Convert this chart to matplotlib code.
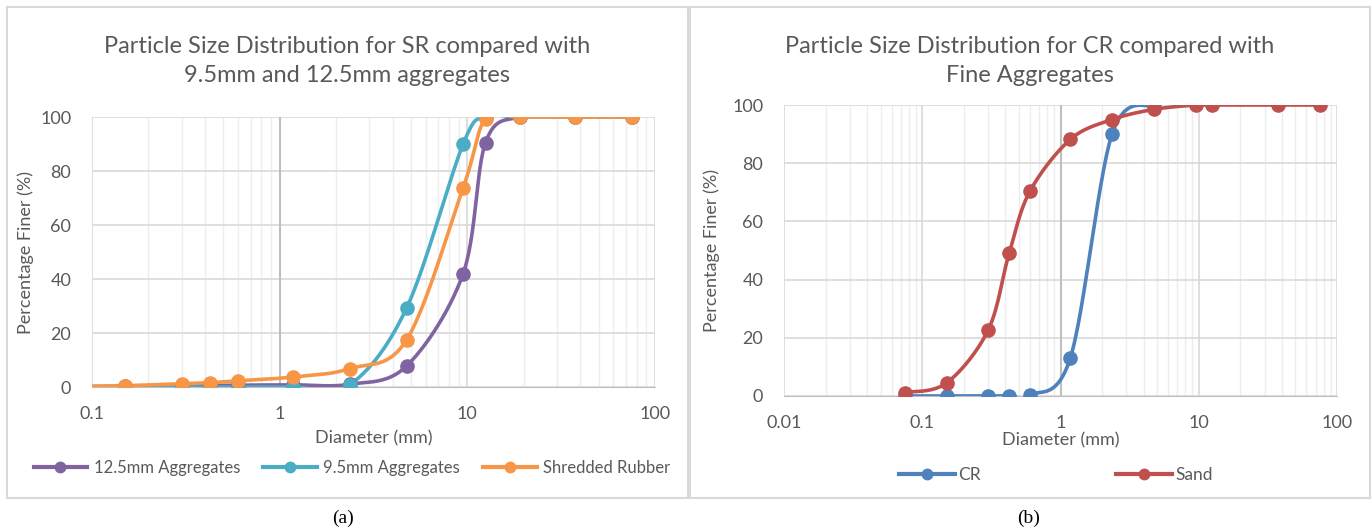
import numpy as np
import matplotlib
matplotlib.use("Agg")
import matplotlib.pyplot as plt
from matplotlib.patches import Rectangle
from matplotlib.lines import Line2D

plt.rcParams['font.family'] = ['Lato', 'DejaVu Sans']

# ---- data (sieve sizes, mm) ----
sieve_a = [0.075, 0.15, 0.3, 0.425, 0.6, 1.18, 2.36, 4.75, 9.5, 12.5, 19, 37.5, 75]
agg125 = [0.0, 0.3, 0.5, 0.6, 0.7, 0.8, 1.0, 7.8, 42.0, 90.5, 100, 100, 100]
agg95 = [0.0, 0.0, 0.0, 0.0, 0.0, 0.0, 0.8, 29.3, 90.0, 100, 100, 100, 100]
rubber = [0.2, 0.5, 1.2, 1.6, 2.3, 3.7, 6.8, 17.5, 73.8, 99.3, 100, 100, 100]

sieve_cr = [0.075, 0.15, 0.3, 0.425, 0.6, 1.18, 2.36, 4.75]
cr = [0.0, 0.0, 0.0, 0.1, 0.3, 13.2, 90.0, 100]
sieve_sand = [0.075, 0.15, 0.3, 0.425, 0.6, 1.18, 2.36, 4.75, 9.5, 12.5, 37.5, 75]
sand = [1.2, 4.5, 22.7, 49.0, 70.3, 88.2, 95.0, 98.5, 100, 100, 100, 100]

C_PURPLE, C_CYAN, C_ORANGE = "#8064A2", "#4BACC6", "#F79646"
C_BLUE, C_RED = "#4F81BD", "#C0504D"
TXT = "#595959"
W, H = 1372, 531


def smooth(ax, xs, ys, xlim, ylim, n=30):
    """Excel-style smoothed line: Bezier through points, computed in axes units."""
    w, h = ax.get_position().width * W, ax.get_position().height * H
    lx0, lx1 = np.log10(xlim[0]), np.log10(xlim[1])
    px = (np.log10(xs) - lx0) / (lx1 - lx0) * w
    py = (np.array(ys) - ylim[0]) / (ylim[1] - ylim[0]) * h
    P = np.column_stack([px, py])
    out = [P[0]]
    t = np.linspace(0, 1, n)[1:, None]
    for i in range(len(P) - 1):
        p0 = P[i - 1] if i > 0 else P[i]
        p3 = P[i + 2] if i + 2 < len(P) else P[i + 1]
        c1 = P[i] + (P[i + 1] - p0) / 6
        c2 = P[i + 1] - (p3 - P[i]) / 6
        seg = ((1 - t) ** 3 * P[i] + 3 * (1 - t) ** 2 * t * c1
               + 3 * (1 - t) * t ** 2 * c2 + t ** 3 * P[i + 1])
        out.extend(seg)
    out = np.array(out)
    X = 10 ** (out[:, 0] / w * (lx1 - lx0) + lx0)
    Y = out[:, 1] / h * (ylim[1] - ylim[0]) + ylim[0]
    return X, Y


def style(ax, xlim, ylim, yticks, xlab_y, ylab_x):
    ax.set_xscale("log")
    ax.set_xlim(*xlim)
    ax.set_ylim(*ylim)
    ax.set_yticks(yticks)
    ax.grid(True, which="major", color="#d9d9d9", lw=1.2)
    ax.grid(True, which="minor", axis="x", color="#ededed", lw=1)
    ax.axvline(1, color="#bfbfbf", lw=1.5, zorder=1)
    ax.set_axisbelow(True)
    for s in ["top", "right", "left"]:
        ax.spines[s].set_visible(False)
    ax.spines["bottom"].set_color("#bfbfbf")
    ax.tick_params(which="both", length=0, labelsize=13, colors=TXT)
    ax.tick_params(axis="x", pad=14)
    ax.tick_params(axis="y", pad=15)
    ax.xaxis.set_major_formatter(matplotlib.ticker.FuncFormatter(lambda v, p: f"{v:g}"))
    ax.set_xlabel("Diameter (mm)", fontsize=13, color=TXT, va="center")
    ax.set_ylabel("Percentage Finer (%)", fontsize=13, color=TXT, va="center")
    ax.xaxis.set_label_coords(0.5, xlab_y)
    ax.yaxis.set_label_coords(ylab_x, 0.5)


fig = plt.figure(figsize=(W / 100, H / 100), dpi=100)

# panel borders
for x0, x1 in [(7, 688), (690, 1370)]:
    fig.patches.append(Rectangle((x0 / W, 1 - 498 / H), (x1 - x0) / W, 491 / H,
                                 transform=fig.transFigure, fill=False,
                                 edgecolor="#d9d9d9", lw=1.5))

# ---- (a) ----
axa = fig.add_axes([92 / W, 1 - 387 / H, (655 - 92) / W, (387 - 117) / H])
xla, yla = (0.1, 100), (0, 100)
style(axa, xla, yla, range(0, 101, 20), (387 - 438) / 270, (26 - 92) / 563)
for ys, c in [(agg125, C_PURPLE), (agg95, C_CYAN), (rubber, C_ORANGE)]:
    X, Y = smooth(axa, sieve_a, ys, xla, yla)
    axa.plot(X, Y, color=c, lw=2.6, zorder=3)
    axa.plot(sieve_a, ys, "o", color=c, ms=9.5, zorder=4)
fig.text(347 / W, 1 - 61 / H, "Particle Size Distribution for SR compared with\n"
         "9.5mm and 12.5mm aggregates", ha="center", va="center", fontsize=17,
         color=TXT, linespacing=1.42)
ha = [Line2D([], [], color=c, lw=3, marker="o", ms=7.5) for c in (C_PURPLE, C_CYAN, C_ORANGE)]
fig.legend(ha, ["12.5mm Aggregates", "9.5mm Aggregates", "Shredded Rubber"],
           loc="center", bbox_to_anchor=(352 / W, 1 - 468 / H), ncol=3, frameon=False,
           fontsize=12, labelcolor=TXT, handlelength=3.2, handletextpad=0.4,
           columnspacing=1.4)

# ---- (b) ----
axb = fig.add_axes([784 / W, 1 - 396 / H, (1337 - 784) / W, (396 - 105) / H])
xlb, ylb = (0.01, 100), (0, 100)
style(axb, xlb, ylb, range(0, 101, 20), (396 - 440) / 291, (712 - 784) / 553)
for xs, ys, c in [(sieve_cr, cr, C_BLUE), (sieve_sand, sand, C_RED)]:
    X, Y = smooth(axb, xs, ys, xlb, ylb)
    axb.plot(X, Y, color=c, lw=2.6, zorder=3)
    axb.plot(xs, ys, "o", color=c, ms=9.5, zorder=4)
fig.text(1030 / W, 1 - 61 / H, "Particle Size Distribution for CR compared with\n"
         "Fine Aggregates", ha="center", va="center", fontsize=17,
         color=TXT, linespacing=1.42)
hb = [Line2D([], [], color=c, lw=3, marker="o", ms=7.5) for c in (C_BLUE, C_RED)]
fig.legend(hb, ["CR", "Sand"], loc="center", bbox_to_anchor=(1056 / W, 1 - 475 / H),
           ncol=2, frameon=False, fontsize=12.5, labelcolor=TXT, handlelength=3.2,
           handletextpad=0.2, columnspacing=7.8)

fig.text(343 / W, 1 - 518 / H, "(a)", ha="center", va="center", fontsize=14,
         family="Liberation Serif")
fig.text(1029 / W, 1 - 518 / H, "(b)", ha="center", va="center", fontsize=14,
         family="Liberation Serif")

fig.savefig("out.png", dpi=100)
